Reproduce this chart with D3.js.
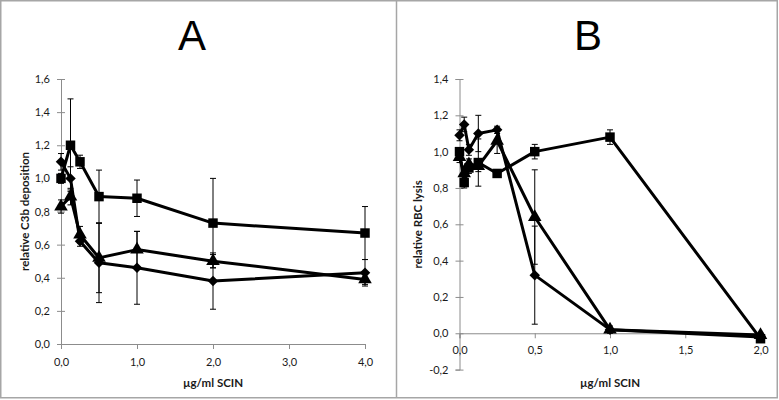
<!DOCTYPE html>
<html>
<head>
<meta charset="utf-8">
<script src="https://cdn.jsdelivr.net/npm/d3@7"></script>
<style>
  body { margin: 0; background: #fff; }
  svg { display: block; }
  text { font-family: Lato, "Open Sans", sans-serif; fill: #1a1a1a; }
</style>
</head>
<body>
<svg id="CHART" width="779" height="400"></svg>
<script>
// Panel A - C3b deposition
var concA = [0, 0.125, 0.25, 0.5, 1, 2, 4];
var squareA = [1.0, 1.2, 1.1, 0.89, 0.88, 0.73, 0.67];
var squareErrA = [0.03, 0.28, 0.04, 0.16, 0.11, 0.27, 0.16];
var diamondA = [1.1, 1.0, 0.62, 0.49, 0.46, 0.38, 0.43];
var diamondErrA = [0.05, 0.07, 0.03, 0.24, 0.22, 0.17, 0.08];
var triangleA = [0.83, 0.89, 0.66, 0.52, 0.57, 0.5, 0.39];
var triangleErrA = [0.04, 0.05, 0.05, 0.21, 0.11, 0.04, 0.03];
var xTicksA = [0, 1, 2, 3, 4];
var yTicksA = [0, 0.2, 0.4, 0.6, 0.8, 1.0, 1.2, 1.4, 1.6];

// Panel B - RBC lysis
var concB = [0, 0.03125, 0.0625, 0.125, 0.25, 0.5, 1, 2];
var squareB = [1.0, 0.83, 0.91, 0.94, 0.88, 1.0, 1.08, -0.03];
var squareErrB = [0.02, 0.03, 0.03, 0.13, 0.02, 0.04, 0.04, 0.01];
var diamondB = [1.09, 1.15, 1.01, 1.10, 1.12, 0.32, 0.02, -0.02];
var diamondErrB = [0.03, 0.04, 0.03, 0.10, 0.02, 0.27, 0.01, 0.01];
var triangleB = [0.97, 0.88, 0.93, 0.92, 1.06, 0.64, 0.02, -0.01];
var triangleErrB = [0.03, 0.04, 0.03, 0.03, 0.07, 0.26, 0.02, 0.01];
var xTicksB = [0, 0.5, 1.0, 1.5, 2.0];
var yTicksB = [-0.2, 0, 0.2, 0.4, 0.6, 0.8, 1.0, 1.2, 1.4];

let svg = d3.select("#CHART");
var fmt = function (v) { return (Math.abs(v) < 1e-9 ? 0 : v).toFixed(1).replace(".", ","); };
var AXIS_COLOR = "#8c8c8c";

// frame + divider
svg.append("rect").attr("x", 0.75).attr("y", 0.75).attr("width", 776.5).attr("height", 397)
  .attr("fill", "none").attr("stroke", "#a6a6a6").attr("stroke-width", 1.5);
svg.append("line").attr("x1", 396.5).attr("x2", 396.5).attr("y1", 0).attr("y2", 398)
  .attr("stroke", "#a6a6a6").attr("stroke-width", 1.5);

let drawPanel = function (p) {
  let g = svg.append("g");
  let xScale = d3.scaleLinear().domain(p.xDomain).range(p.xRange);
  let yScale = d3.scaleLinear().domain(p.yDomain).range(p.yRange);

  // title letter
  g.append("text").attr("x", p.titleX).attr("y", 50)
    .attr("text-anchor", "middle")
    .style("font-family", "'Liberation Sans', Arial, sans-serif")
    .style("font-size", "42px")
    .style("fill", "#000")
    .text(p.title);

  // y axis (cross ticks)
  let yAxis = d3.axisLeft(yScale).tickValues(p.yTicks).tickFormat(fmt).tickSize(4).tickPadding(7);
  let ya = g.append("g").attr("transform", `translate(${xScale(0)},0)`).call(yAxis);
  ya.selectAll(".tick line").attr("x1", 4).attr("x2", -4);

  // x axis at y = 0
  let xAxis = d3.axisBottom(xScale).tickValues(p.xTicks).tickFormat(fmt).tickSize(5).tickPadding(p.xPad);
  let xa = g.append("g").attr("transform", `translate(0,${yScale(0)})`).call(xAxis);

  [ya, xa].forEach(function (a) {
    a.select(".domain").attr("stroke", AXIS_COLOR);
    a.selectAll(".tick line").attr("stroke", AXIS_COLOR);
    a.selectAll("text").style("font-size", "11px").style("fill", "#1a1a1a");
  });

  // axis titles
  g.append("text")
    .attr("transform", `translate(${p.yTitleX},${(p.yRange[0] + p.yRange[1]) / 2}) rotate(-90)`)
    .attr("text-anchor", "middle").attr("dy", "0.35em")
    .style("font-size", "11.5px").style("font-weight", "bold")
    .text(p.yTitle);
  g.append("text").attr("x", (p.xRange[0] + p.xRange[1]) / 2).attr("y", 387)
    .attr("text-anchor", "middle")
    .style("font-size", "11.5px").style("font-weight", "bold")
    .text("µg/ml SCIN");

  // series
  p.series.forEach(function (s) {
    let pts = p.conc.map((c, i) => ({ x: c, y: s.values[i], e: s.errs[i] }));
    let sg = g.append("g");

    // error bars
    let eb = sg.selectAll(".err").data(pts).enter().append("g");
    eb.append("line")
      .attr("x1", d => xScale(d.x)).attr("x2", d => xScale(d.x))
      .attr("y1", d => yScale(d.y - d.e)).attr("y2", d => yScale(d.y + d.e))
      .attr("stroke", "#000").attr("stroke-width", 1);
    [-1, 1].forEach(function (sgn) {
      eb.append("line")
        .attr("x1", d => xScale(d.x) - 3).attr("x2", d => xScale(d.x) + 3)
        .attr("y1", d => yScale(d.y + sgn * d.e)).attr("y2", d => yScale(d.y + sgn * d.e))
        .attr("stroke", "#000").attr("stroke-width", 1);
    });

    // line
    sg.append("path").datum(pts)
      .attr("d", d3.line().x(d => xScale(d.x)).y(d => yScale(d.y)))
      .attr("fill", "none").attr("stroke", "#000").attr("stroke-width", 3)
      .attr("stroke-linejoin", "round");

    // markers
    sg.selectAll(".mk").data(pts).enter().append("path")
      .attr("d", d3.symbol().type(s.shape === "triangle" ? d3.symbolTriangle : d3.symbolSquare)
        .size(s.shape === "square" ? 90 : (s.shape === "diamond" ? 55 : 80)))
      .attr("transform", d => `translate(${xScale(d.x)},${yScale(d.y)})` + (s.shape === "diamond" ? " rotate(45)" : ""))
      .attr("fill", "#000");
  });
};

drawPanel({
  title: "A", titleX: 192,
  xDomain: [0, 4], xRange: [61, 365],
  yDomain: [0, 1.6], yRange: [344, 79],
  xTicks: xTicksA, yTicks: yTicksA, xPad: 9,
  yTitle: "relative C3b deposition", yTitleX: 25,
  conc: concA,
  series: [
    { shape: "triangle", values: triangleA, errs: triangleErrA },
    { shape: "diamond", values: diamondA, errs: diamondErrA },
    { shape: "square", values: squareA, errs: squareErrA }
  ]
});

drawPanel({
  title: "B", titleX: 588,
  xDomain: [0, 2], xRange: [459.5, 760.5],
  yDomain: [-0.2, 1.4], yRange: [369.6, 79],
  xTicks: xTicksB, yTicks: yTicksB, xPad: 8,
  yTitle: "relative RBC lysis", yTitleX: 418,
  conc: concB,
  series: [
    { shape: "triangle", values: triangleB, errs: triangleErrB },
    { shape: "diamond", values: diamondB, errs: diamondErrB },
    { shape: "square", values: squareB, errs: squareErrB }
  ]
});
</script>
</body>
</html>
